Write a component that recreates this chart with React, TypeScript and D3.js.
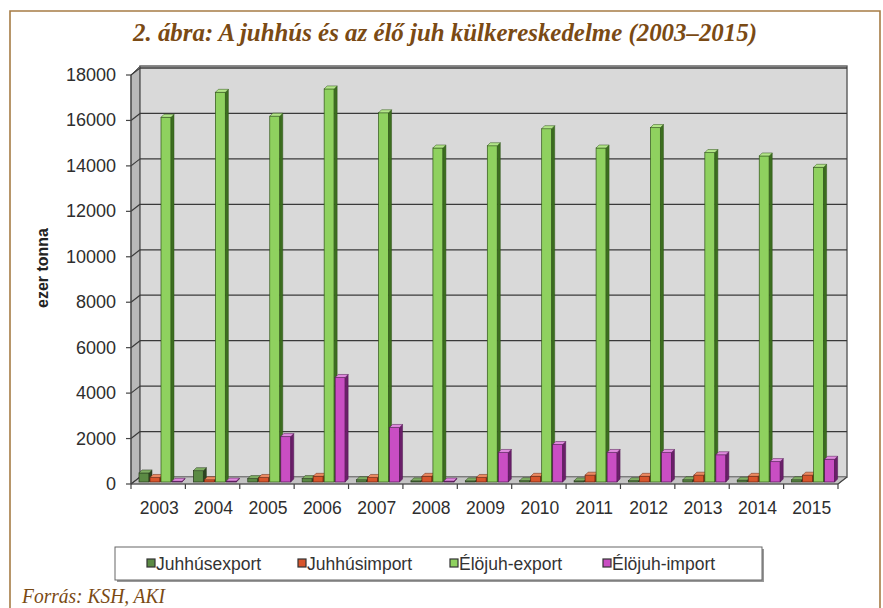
import React from "react";
import * as d3 from "d3";

const years = ["2003","2004","2005","2006","2007","2008","2009","2010","2011","2012","2013","2014","2015"];
const juhhusExport = [400, 500, 150, 150, 100, 50, 50, 60, 50, 60, 100, 80, 100];
const juhhusImport = [200, 100, 200, 250, 200, 250, 200, 250, 300, 250, 300, 250, 300];
const elojuhExport = [16050, 17150, 16100, 17300, 16250, 14700, 14800, 15550, 14700, 15600, 14500, 14350, 13850];
const elojuhImport = [30, 40, 2000, 4600, 2400, 40, 1300, 1650, 1300, 1300, 1200, 900, 1000];
const yTicks = [0, 2000, 4000, 6000, 8000, 10000, 12000, 14000, 16000, 18000];

const seriesNames = ["Juhhúsexport", "Juhhúsimport", "Élöjuh-export", "Élöjuh-import"];
const seriesData = [juhhusExport, juhhusImport, elojuhExport, elojuhImport];
const seriesColors = [
  { front: "#5b8a44", side: "#2c4420", top: "#7fae63", stroke: "#26381c" },
  { front: "#d8552c", side: "#8c2c12", top: "#ec8a62", stroke: "#6a2410" },
  { front: "#8fd15f", side: "#3c6e1f", top: "#b3e589", stroke: "#2f5418" },
  { front: "#c94ec3", side: "#6b1f6a", top: "#e08ade", stroke: "#4f1650" },
];

const W = 883, H = 608;
const axL = 131, axR = 838, yTop = 75, yBot = 484;
const DX = 9, DY = -7;

export default function App() {
  const x = d3.scaleBand<string>().domain(years).range([axL, axR]).padding(0);
  const y = d3.scaleLinear().domain([0, 18000]).range([yBot, yTop]);
  const bw = 10, bd = 3, slot = 11, off = 8;

  const bars: React.ReactNode[] = [];
  years.forEach((yr, ci) => {
    const cs = x(yr)!;
    seriesData.forEach((arr, si) => {
      const v = arr[ci];
      const c = seriesColors[si];
      const bx = cs + off + si * slot;
      const top = y(v) - 2;
      const bottom = yBot - 2;
      bars.push(
        <g key={`${yr}-${si}`}>
          <rect x={bx} y={top} width={bw} height={Math.max(0, bottom - top)} fill={c.front} stroke={c.stroke} strokeWidth={0.7} />
          <polygon points={`${bx + bw},${top} ${bx + bw + bd},${top - bd} ${bx + bw + bd},${bottom - bd} ${bx + bw},${bottom}`} fill={c.side} stroke={c.stroke} strokeWidth={0.5} />
          <polygon points={`${bx},${top} ${bx + bd},${top - bd} ${bx + bw + bd},${top - bd} ${bx + bw},${top}`} fill={c.top} stroke={c.stroke} strokeWidth={0.5} />
        </g>
      );
    });
  });

  const legendX = [147, 298, 450, 603];

  return (
    <svg width={W} height={H} style={{ position: "absolute", left: 0, top: 0, background: "#fff" }}
      fontFamily="'Liberation Sans', Arial, sans-serif">
      {/* frame */}
      <path d={`M10,${H} L10,11 L880,11 L880,${H}`} fill="none" stroke="#a67c45" strokeWidth={1.6} />
      <text x={133} y={41} textLength={624} lengthAdjust="spacingAndGlyphs" fontFamily="'Liberation Serif', serif" fontWeight="bold" fontStyle="italic"
        fontSize={25} fill="#7a4a14">2. ábra: A juhhús és az élő juh külkereskedelme (2003–2015)</text>

      {/* side wall */}
      <polygon points={`${axL},${yTop} ${axL + DX},${yTop + DY - 2} ${axL + DX},${yBot + DY} ${axL},${yBot}`} fill="#b9b9b9" stroke="#666" strokeWidth={1} />
      {/* back wall */}
      <rect x={axL + DX} y={yTop + DY - 2} width={axR - axL} height={yBot - yTop + 2} fill="#d9d9d9" stroke="#5a5a5a" strokeWidth={1.4} />
      {/* floor */}
      <polygon points={`${axL},${yBot} ${axL + DX},${yBot + DY} ${axR + DX},${yBot + DY} ${axR},${yBot}`} fill="#c4c4c4" stroke="#777" strokeWidth={0.8} />
      {/* gridlines */}
      {yTicks.map((t) => (
        <g key={t}>
          <line x1={axL} y1={y(t)} x2={axL + DX} y2={y(t) + DY} stroke="#3a3a3a" strokeWidth={1.2} />
          {t > 0 && <line x1={axL + DX} y1={y(t) + DY} x2={axR + DX} y2={y(t) + DY} stroke="#3a3a3a" strokeWidth={1.3} />}
        </g>
      ))}
      {/* bars */}
      {bars}
      {/* axes */}
      <line x1={axL} y1={yTop} x2={axL} y2={yBot} stroke="#444" strokeWidth={1.2} />
      <line x1={axL} y1={yBot} x2={axR} y2={yBot} stroke="#444" strokeWidth={1.2} />
      <line x1={axR} y1={yBot} x2={axR + DX} y2={yBot + DY} stroke="#444" strokeWidth={1.2} />
      {yTicks.map((t) => (
        <g key={"yt" + t}>
          <line x1={axL - 5} y1={y(t)} x2={axL} y2={y(t)} stroke="#444" strokeWidth={1.2} />
          <text x={116} y={y(t) + 6} textAnchor="end" fontSize={18} fill="#2e2e2e">{t}</text>
        </g>
      ))}
      {years.map((yr) => (
        <g key={"xt" + yr}>
          <line x1={x(yr)!} y1={yBot} x2={x(yr)!} y2={yBot + 5} stroke="#444" strokeWidth={1.2} />
          <text x={x(yr)! + x.bandwidth() / 2 + 1} y={514} textAnchor="middle" fontSize={17.5} fill="#2e2e2e">{yr}</text>
        </g>
      ))}
      <line x1={axR} y1={yBot} x2={axR} y2={yBot + 5} stroke="#444" strokeWidth={1.2} />
      <text transform="translate(48,268) rotate(-90)" textAnchor="middle" fontSize={16} fontWeight="bold" fill="#222">ezer tonna</text>

      {/* legend */}
      <rect x={117} y={549} width={647} height={33} fill="#999" />
      <rect x={115} y={547} width={647} height={33} fill="#fff" stroke="#666" strokeWidth={1} />
      {seriesNames.map((n, i) => (
        <g key={n}>
          <rect x={legendX[i]} y={559} width={8} height={8} fill={seriesColors[i].front} stroke="#333" strokeWidth={1.2} />
          <text x={legendX[i] + 9} y={570} fontSize={17.5} fill="#333">{n}</text>
        </g>
      ))}

      <text x={22} y={603} textLength={143} lengthAdjust="spacingAndGlyphs" fontFamily="'Liberation Serif', serif" fontStyle="italic" fontSize={21} fill="#7a4a14">Forrás: KSH, AKI</text>
    </svg>
  );
}
